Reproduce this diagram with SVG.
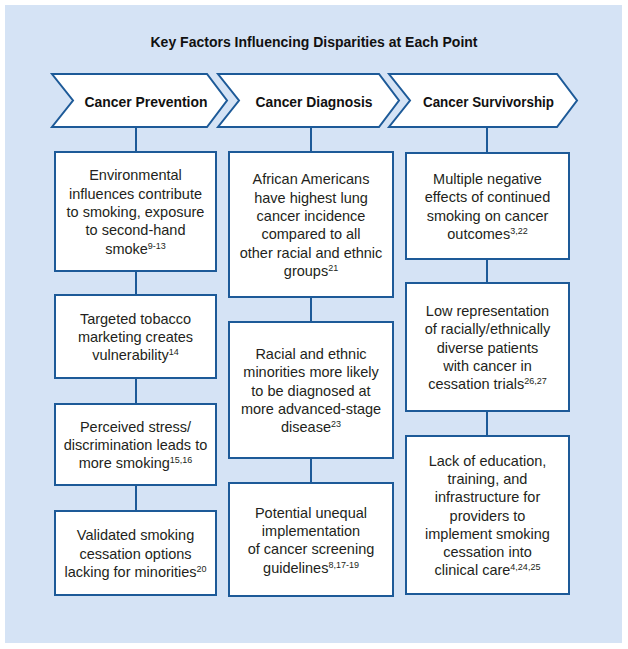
<svg xmlns="http://www.w3.org/2000/svg" width="628" height="649" viewBox="0 0 628 649">
<style>
.bg{fill:#d5e3f5}
.chev{fill:#ffffff;stroke:#1d5a98;stroke-width:2;stroke-linejoin:miter}
.box{fill:#ffffff;stroke:#1d5a98;stroke-width:2}
.con{stroke:#1d5a98;stroke-width:2;fill:none}
.t{font-family:"Liberation Sans",Arial,sans-serif;font-size:14.5px;fill:#231f20;text-anchor:middle}
.h{font-family:"Liberation Sans",Arial,sans-serif;font-weight:bold;fill:#111111;text-anchor:middle}
.sup{font-size:9px}
</style>
<rect class="bg" x="5" y="5" width="617" height="638"/>
<text class="h" x="314" y="47" font-size="14.5" textLength="327" lengthAdjust="spacingAndGlyphs">Key Factors Influencing Disparities at Each Point</text>
<g id="connectors">
<line class="con" x1="136" y1="127" x2="136" y2="152"/>
<line class="con" x1="136" y1="271" x2="136" y2="295"/>
<line class="con" x1="136" y1="378" x2="136" y2="404"/>
<line class="con" x1="136" y1="485" x2="136" y2="511"/>
<line class="con" x1="311" y1="127" x2="311" y2="152"/>
<line class="con" x1="311" y1="297" x2="311" y2="322"/>
<line class="con" x1="311" y1="458" x2="311" y2="483"/>
<line class="con" x1="487" y1="127" x2="487" y2="153"/>
<line class="con" x1="487" y1="259" x2="487" y2="283"/>
<line class="con" x1="487" y1="411" x2="487" y2="436"/>
</g>
<g id="prevention">
<polygon class="chev" points="52,74 207,74 227,100.5 207,127 52,127 73,100.5"/>
<text class="h" x="146" y="107" font-size="14" textLength="123" lengthAdjust="spacingAndGlyphs">Cancer Prevention</text>
</g>
<g id="diagnosis">
<polygon class="chev" points="218,74 379,74 399,100.5 379,127 218,127 239,100.5"/>
<text class="h" x="314" y="107" font-size="14" textLength="117" lengthAdjust="spacingAndGlyphs">Cancer Diagnosis</text>
</g>
<g id="survivorship">
<polygon class="chev" points="389,74 557,74 577,100.5 557,127 389,127 410,100.5"/>
<text class="h" x="488.5" y="107" font-size="14" textLength="131" lengthAdjust="spacingAndGlyphs">Cancer Survivorship</text>
</g>
<g id="p1">
<rect class="box" x="55" y="152" width="161" height="119"/>
<text class="t" x="135.5" y="180.4">Environmental</text>
<text class="t" x="135.5" y="198.7">influences contribute</text>
<text class="t" x="135.5" y="217">to smoking, exposure</text>
<text class="t" x="135.5" y="235.3">to second-hand</text>
<text class="t" x="135.5" y="253.6">smoke<tspan class="sup" dy="-5">9-13</tspan></text>
</g>
<g id="p2">
<rect class="box" x="55" y="295" width="161" height="83"/>
<text class="t" x="135.5" y="323.7">Targeted tobacco</text>
<text class="t" x="135.5" y="342">marketing creates</text>
<text class="t" x="135.5" y="360.3">vulnerability<tspan class="sup" dy="-5">14</tspan></text>
</g>
<g id="p3">
<rect class="box" x="55" y="404" width="161" height="81"/>
<text class="t" x="135.5" y="431.7">Perceived stress/</text>
<text class="t" x="135.5" y="450">discrimination leads to</text>
<text class="t" x="135.5" y="468.3">more smoking<tspan class="sup" dy="-5">15,16</tspan></text>
</g>
<g id="p4">
<rect class="box" x="55" y="511" width="161" height="84"/>
<text class="t" x="135.5" y="540.2">Validated smoking</text>
<text class="t" x="135.5" y="558.5">cessation options</text>
<text class="t" x="135.5" y="576.8">lacking for minorities<tspan class="sup" dy="-5">20</tspan></text>
</g>
<g id="d1">
<rect class="box" x="229" y="152" width="164" height="145"/>
<text class="t" x="311" y="184.3">African Americans</text>
<text class="t" x="311" y="202.6">have highest lung</text>
<text class="t" x="311" y="220.9">cancer incidence</text>
<text class="t" x="311" y="239.2">compared to all</text>
<text class="t" x="311" y="257.5">other racial and ethnic</text>
<text class="t" x="311" y="275.8">groups<tspan class="sup" dy="-5">21</tspan></text>
</g>
<g id="d2">
<rect class="box" x="229" y="322" width="164" height="136"/>
<text class="t" x="311" y="358.9">Racial and ethnic</text>
<text class="t" x="311" y="377.2">minorities more likely</text>
<text class="t" x="311" y="395.5">to be diagnosed at</text>
<text class="t" x="311" y="413.8">more advanced-stage</text>
<text class="t" x="311" y="432.1">disease<tspan class="sup" dy="-5">23</tspan></text>
</g>
<g id="d3">
<rect class="box" x="229" y="483" width="164" height="113"/>
<text class="t" x="311" y="517.6">Potential unequal</text>
<text class="t" x="311" y="535.9">implementation</text>
<text class="t" x="311" y="554.2">of cancer screening</text>
<text class="t" x="311" y="572.5">guidelines<tspan class="sup" dy="-5">8,17-19</tspan></text>
</g>
<g id="s1">
<rect class="box" x="406" y="153" width="163" height="106"/>
<text class="t" x="487.5" y="184.1">Multiple negative</text>
<text class="t" x="487.5" y="202.4">effects of continued</text>
<text class="t" x="487.5" y="220.7">smoking on cancer</text>
<text class="t" x="487.5" y="239">outcomes<tspan class="sup" dy="-5">3,22</tspan></text>
</g>
<g id="s2">
<rect class="box" x="406" y="283" width="163" height="128"/>
<text class="t" x="487.5" y="315.9">Low representation</text>
<text class="t" x="487.5" y="334.2">of racially/ethnically</text>
<text class="t" x="487.5" y="352.5">diverse patients</text>
<text class="t" x="487.5" y="370.8">with cancer in</text>
<text class="t" x="487.5" y="389.1">cessation trials<tspan class="sup" dy="-5">26,27</tspan></text>
</g>
<g id="s3">
<rect class="box" x="406" y="436" width="163" height="158"/>
<text class="t" x="487.5" y="465.6">Lack of education,</text>
<text class="t" x="487.5" y="483.9">training, and</text>
<text class="t" x="487.5" y="502.2">infrastructure for</text>
<text class="t" x="487.5" y="520.5">providers to</text>
<text class="t" x="487.5" y="538.8">implement smoking</text>
<text class="t" x="487.5" y="557.1">cessation into</text>
<text class="t" x="487.5" y="575.4">clinical care<tspan class="sup" dy="-5">4,24,25</tspan></text>
</g>
</svg>
